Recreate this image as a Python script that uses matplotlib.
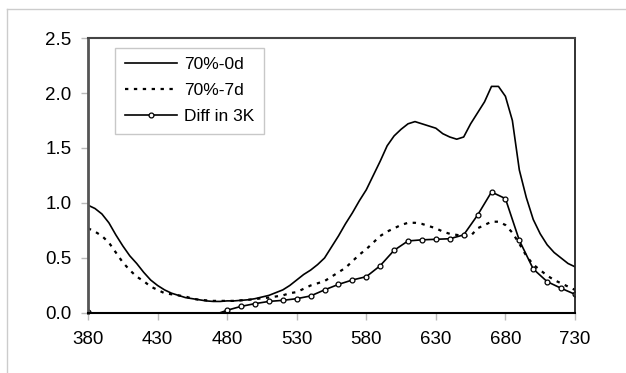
import matplotlib
matplotlib.use("Agg")
import matplotlib.pyplot as plt
from matplotlib.lines import Line2D

plt.rcParams['font.family'] = ['Liberation Sans', 'DejaVu Sans']

# wavelengths (nm)
wl5 = list(range(380, 731, 5))
wl10 = list(range(380, 731, 10))

# 70%-0d
d0 = [0.98, 0.95, 0.90, 0.82, 0.71, 0.61, 0.52, 0.45, 0.37, 0.30,
      0.25, 0.21, 0.18, 0.16, 0.14, 0.13, 0.12, 0.11, 0.105, 0.105,
      0.11, 0.11, 0.115, 0.12, 0.13, 0.145, 0.16, 0.185, 0.21, 0.25,
      0.30, 0.35, 0.39, 0.44, 0.50, 0.60, 0.70, 0.81, 0.91, 1.02,
      1.12, 1.25, 1.38, 1.52, 1.61, 1.67, 1.72, 1.74, 1.72, 1.70,
      1.68, 1.63, 1.60, 1.58, 1.60, 1.72, 1.82, 1.92, 2.06, 2.06,
      1.97, 1.75, 1.30, 1.05, 0.85, 0.72, 0.62, 0.55, 0.50, 0.45,
      0.42]

# 70%-7d
d7 = [0.77, 0.74, 0.70, 0.64, 0.55, 0.46, 0.39, 0.33, 0.29, 0.24,
      0.21, 0.18, 0.17, 0.16, 0.15, 0.13, 0.12, 0.115, 0.11, 0.11,
      0.11, 0.11, 0.115, 0.12, 0.125, 0.135, 0.14, 0.15, 0.16, 0.18,
      0.19, 0.22, 0.25, 0.27, 0.29, 0.33, 0.37, 0.41, 0.47, 0.53,
      0.58, 0.64, 0.70, 0.74, 0.77, 0.80, 0.82, 0.82, 0.81, 0.79,
      0.77, 0.74, 0.72, 0.71, 0.70, 0.70, 0.77, 0.80, 0.83, 0.83,
      0.80, 0.73, 0.63, 0.52, 0.44, 0.39, 0.34, 0.30, 0.27, 0.24,
      0.21]

# Diff in 3K (negative part falls below the axis)
diff = [0.01, -0.25, -0.35, -0.30, -0.25, -0.20, -0.15, -0.10, -0.06, -0.02,
        0.025, 0.06, 0.085, 0.105, 0.115, 0.13, 0.155, 0.21, 0.26, 0.30,
        0.33, 0.43, 0.57, 0.655, 0.665, 0.67, 0.675, 0.71, 0.89, 1.10,
        1.04, 0.66, 0.40, 0.285, 0.225, 0.17]

xticks = [380, 430, 480, 530, 580, 630, 680, 730]
yticks = [0.0, 0.5, 1.0, 1.5, 2.0, 2.5]

fig = plt.figure(figsize=(6.26, 3.73), dpi=100)
ax = fig.add_axes([0.1406, 0.1609, 0.7779, 0.7372])

ax.plot(wl5, d0, color='black', lw=1.2, label='70%-0d')
ax.plot(wl5, d7, color='black', lw=1.6, linestyle=(0, (1.5, 2.5)), label='70%-7d')
ax.plot(wl10, diff, color='black', lw=1.2, marker='o', markersize=3.5,
        markerfacecolor='white', markeredgecolor='black', markeredgewidth=0.9,
        label='Diff in 3K')

ax.set_xlim(380, 730)
ax.set_ylim(0, 2.5)
ax.set_xticks(xticks)
ax.set_yticks(yticks)
ax.set_yticklabels([f"{v:.1f}" for v in yticks])

ax.spines['left'].set_color('#555555')
ax.spines['left'].set_linewidth(2.0)
ax.spines['top'].set_color('#444444')
ax.spines['top'].set_linewidth(1.5)
ax.spines['right'].set_color('#222222')
ax.spines['right'].set_linewidth(1.3)
ax.spines['bottom'].set_color('black')
ax.spines['bottom'].set_linewidth(1.5)

ax.tick_params(axis='both', colors='#bbbbbb', labelcolor='black', labelsize=13.5,
               width=1.0, length=5, direction='out')
ax.tick_params(axis='x', pad=8)
ax.tick_params(axis='y', pad=7)

leg = ax.legend(loc='upper left', bbox_to_anchor=(0.056, 0.965), fontsize=12.5,
                frameon=True, fancybox=False, handlelength=3.0, handletextpad=0.4,
                labelspacing=0.62, borderpad=0.55, borderaxespad=0)
leg.get_frame().set_edgecolor('#bbbbbb')
leg.get_frame().set_linewidth(1.0)

# outer chart-area border (top and left only visible)
fig.add_artist(Line2D([7 / 626, 1], [1 - 9 / 373, 1 - 9 / 373], color='#cccccc', lw=1.0))
fig.add_artist(Line2D([7 / 626, 7 / 626], [0, 1 - 9 / 373], color='#cccccc', lw=1.0))

fig.savefig('out.png', dpi=100)
